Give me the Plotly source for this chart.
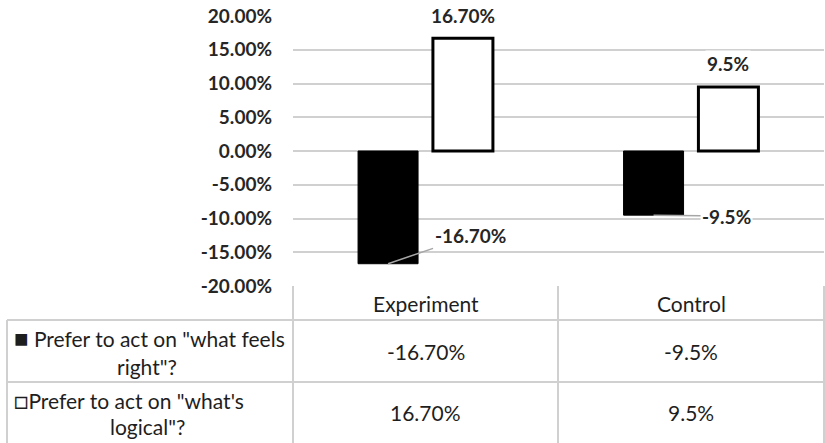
import plotly.graph_objects as go

# ---- data ----
categories = ["Experiment", "Control"]
series_names = ['Prefer to act on "what feels right"?', 'Prefer to act on "what\'s logical"?']
feels_right = [-16.70, -9.5]
logical = [16.70, 9.5]
feels_right_labels = ["-16.70%", "-9.5%"]
logical_labels = ["16.70%", "9.5%"]
legend_keys = ["■", "□"]
row_label_line1 = [' Prefer to act on "what feels', 'Prefer to act on "what\'s']
row_label_line2 = ['right"?', 'logical"?']
y_ticks = [20, 15, 10, 5, 0, -5, -10, -15, -20]
y_tick_labels = ["20.00%", "15.00%", "10.00%", "5.00%", "0.00%", "-5.00%", "-10.00%", "-15.00%", "-20.00%"]

W, H = 825, 443
FONT = "Lato"
TXT = "#262626"
TBL = "#1e1e1e"
GRID = "#d0d0d0"

def px(x):
    return x / W

def py(y):
    return 1 - y / H

x_left, x_right = 293, 824
y_top, y_bot = 16, 286

bar_w = 0.226
off_black = -0.255
off_white = 0.027
xs = list(range(len(categories)))

fig = go.Figure()
fig.add_trace(go.Bar(
    x=xs, y=feels_right, name=series_names[0],
    width=bar_w, offset=off_black,
    marker=dict(color="#000000", line=dict(color="#000000", width=1)),
))
fig.add_trace(go.Bar(
    x=xs, y=logical, name=series_names[1],
    width=bar_w, offset=off_white,
    marker=dict(color="#ffffff", line=dict(color="#000000", width=3)),
))

annotations = []
# positive data labels
for i, (v, lab) in enumerate(zip(logical, logical_labels)):
    annotations.append(dict(
        x=i + off_white + bar_w / 2, y=v, xref="x", yref="y",
        text="<b>" + lab + "</b>", showarrow=False, xanchor="center", yanchor="middle", yshift=23,
        font=dict(family=FONT, size=19, color=TXT), bgcolor="white",
    ))
# negative data labels with leader lines
neg_offsets = [(82, -28), (73, 1)]
for i, (v, lab) in enumerate(zip(feels_right, feels_right_labels)):
    ax, ay = neg_offsets[i]
    annotations.append(dict(
        x=i + off_black + bar_w / 2, y=v, xref="x", yref="y",
        text="<b>" + lab + "</b>", showarrow=True, arrowhead=0, arrowwidth=1.5,
        arrowcolor="#a6a6a6", ax=ax, ay=ay, standoff=0,
        font=dict(family=FONT, size=19, color=TXT), bgcolor="white", borderpad=1,
    ))

# ---- data table below the chart ----
col_edges = [x_left, 558, x_right]
row_tops = [286, 320, 382, 443]
shapes = []
line_style = dict(color=GRID, width=2)
for xe in col_edges:
    shapes.append(dict(type="line", xref="paper", yref="paper",
                       x0=px(xe), x1=px(xe), y0=py(row_tops[0]), y1=py(row_tops[3]), line=line_style))
shapes.append(dict(type="line", xref="paper", yref="paper",
                   x0=px(7), x1=px(7), y0=py(row_tops[1]), y1=py(row_tops[3]), line=line_style))
for yr in row_tops[1:3]:
    shapes.append(dict(type="line", xref="paper", yref="paper",
                       x0=px(7), x1=px(x_right), y0=py(yr), y1=py(yr), line=line_style))

col_centers = [(col_edges[j] + col_edges[j + 1]) / 2 for j in range(len(categories))]
header_y = (row_tops[0] + row_tops[1]) / 2
for j, cat in enumerate(categories):
    annotations.append(dict(x=px(col_centers[j]), y=py(header_y), xref="paper", yref="paper",
                            text=cat, showarrow=False, xanchor="center", yanchor="middle",
                            font=dict(family=FONT, size=21, color=TBL)))
rows = [feels_right_labels, logical_labels]
line_y = [(337, 366), (399, 426)]
for r in range(2):
    yc = (row_tops[r + 1] + row_tops[r + 2]) / 2
    y1, y2 = line_y[r]
    annotations.append(dict(x=px(12), y=py(y1), xref="paper", yref="paper",
                            text='<span style="font-size:24px">' + legend_keys[r] + '</span>' + row_label_line1[r],
                            showarrow=False, xanchor="left", yanchor="middle",
                            font=dict(family=FONT, size=21, color=TBL)))
    annotations.append(dict(x=px(147), y=py(y2), xref="paper", yref="paper",
                            text=row_label_line2[r], showarrow=False,
                            xanchor="center", yanchor="middle",
                            font=dict(family=FONT, size=21, color=TBL)))
    for j in range(len(categories)):
        annotations.append(dict(x=px(col_centers[j]), y=py(yc), xref="paper", yref="paper",
                                text=rows[r][j], showarrow=False, xanchor="center", yanchor="middle",
                                font=dict(family=FONT, size=21, color=TBL)))

fig.update_layout(
    width=W, height=H,
    margin=dict(l=0, r=0, t=0, b=0),
    paper_bgcolor="white", plot_bgcolor="white",
    showlegend=False,
    barmode="overlay",
    annotations=annotations,
    shapes=shapes,
    xaxis=dict(domain=[px(x_left), px(x_right)], range=[-0.5, len(categories) - 0.5],
               showticklabels=False, showgrid=False, zeroline=False, showline=False,
               fixedrange=True),
    yaxis=dict(domain=[py(y_bot), py(y_top)], range=[-20, 20],
               tickvals=y_ticks, ticktext=["<b>" + t + "</b>" for t in y_tick_labels],
               tickfont=dict(family=FONT, size=19, color=TXT),
               showgrid=True, gridcolor=GRID, gridwidth=2,
               zeroline=True, zerolinecolor=GRID, zerolinewidth=2,
               showline=False, ticks="", ticklabelstandoff=20, automargin=False,
               fixedrange=True),
)

fig.write_html("out.html")
